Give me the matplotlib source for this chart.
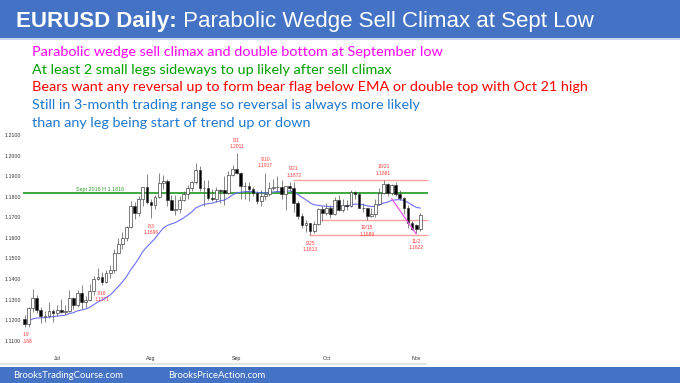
import numpy as np
import matplotlib
matplotlib.use("Agg")
import matplotlib.pyplot as plt
from matplotlib.patches import Rectangle
from matplotlib.transforms import offset_copy

# daily bars, 6/19 .. 11/3
dates = ['6/19', '6/22', '6/23', '6/24', '6/25', '6/26', '6/29', '6/30',
         '7/1', '7/2', '7/3', '7/6', '7/7', '7/8', '7/9', '7/10', '7/13', '7/14', '7/15',
         '7/16', '7/17', '7/20', '7/21', '7/22', '7/23', '7/24', '7/27', '7/28', '7/29',
         '7/30', '7/31',
         '8/3', '8/4', '8/5', '8/6', '8/7', '8/10', '8/11', '8/12', '8/13', '8/14', '8/17',
         '8/18', '8/19', '8/20', '8/21', '8/24', '8/25', '8/26', '8/27', '8/28', '8/31',
         '9/1', '9/2', '9/3', '9/4', '9/7', '9/8', '9/9', '9/10', '9/11', '9/14', '9/15',
         '9/16', '9/17', '9/18', '9/21', '9/22', '9/23', '9/24', '9/25', '9/28', '9/29', '9/30',
         '10/1', '10/2', '10/5', '10/6', '10/7', '10/8', '10/9', '10/12', '10/13', '10/14',
         '10/15', '10/16', '10/19', '10/20', '10/21', '10/22', '10/23', '10/26', '10/27',
         '10/28', '10/29', '10/30',
         '11/2', '11/3']

opens = [1.1207, 1.1180, 1.1257, 1.1307, 1.1250, 1.1213, 1.1220, 1.1243,
         1.1234, 1.1250, 1.1240, 1.1245, 1.1310, 1.1275, 1.1330, 1.1287, 1.1300, 1.1343, 1.1399,
         1.1410, 1.1383, 1.1428, 1.1442, 1.1528, 1.1570, 1.1597, 1.1655, 1.1753, 1.1719,
         1.1791, 1.1845,
         1.1775, 1.1762, 1.1799, 1.1868, 1.1875, 1.1785, 1.1737, 1.1740, 1.1786, 1.1812, 1.1842,
         1.1870, 1.1932, 1.1840, 1.1843, 1.1795, 1.1791, 1.1834, 1.1831, 1.1819, 1.1904,
         1.1937, 1.1914, 1.1854, 1.1850, 1.1837, 1.1819, 1.1778, 1.1802, 1.1812, 1.1844, 1.1846,
         1.1845, 1.1813, 1.1852, 1.1840, 1.1771, 1.1706, 1.1661, 1.1670, 1.1631, 1.1665, 1.1740,
         1.1720, 1.1747, 1.1714, 1.1782, 1.1734, 1.1760, 1.1756, 1.1825, 1.1814, 1.1745,
         1.1746, 1.1706, 1.1717, 1.1766, 1.1819, 1.1860, 1.1816, 1.1859, 1.1813,
         1.1795, 1.1745, 1.1674,
         1.1662, 1.1641]

highs = [1.1226, 1.1266, 1.1349, 1.1324, 1.1262, 1.1245, 1.1288, 1.1255,
         1.1275, 1.1303, 1.1275, 1.1346, 1.1314, 1.1348, 1.1371, 1.1318, 1.1375, 1.1415, 1.1452,
         1.1434, 1.1446, 1.1468, 1.1546, 1.1601, 1.1626, 1.1660, 1.1781, 1.1775, 1.1805,
         1.1845, 1.1908,
         1.1789, 1.1808, 1.1916, 1.1906, 1.1885, 1.1808, 1.1810, 1.1803, 1.1828, 1.1858, 1.1877,
         1.1966, 1.1951, 1.1881, 1.1883, 1.1839, 1.1845, 1.1836, 1.1900, 1.1925, 1.1953,
         1.2011, 1.1918, 1.1871, 1.1872, 1.1845, 1.1829, 1.1835, 1.1917, 1.1870, 1.1887, 1.1900,
         1.1882, 1.1838, 1.1872, 1.1872, 1.1778, 1.1720, 1.1688, 1.1674, 1.1683, 1.1747, 1.1753,
         1.1770, 1.1760, 1.1797, 1.1808, 1.1788, 1.1785, 1.1832, 1.1829, 1.1824, 1.1767,
         1.1747, 1.1744, 1.1791, 1.1840, 1.1881, 1.1868, 1.1860, 1.1871, 1.1831,
         1.1798, 1.1760, 1.1683,
         1.1668, 1.1722]

lows = [1.1168, 1.1168, 1.1240, 1.1235, 1.1184, 1.1193, 1.1210, 1.1190,
        1.1218, 1.1236, 1.1228, 1.1240, 1.1255, 1.1262, 1.1255, 1.1257, 1.1295, 1.1320, 1.1395,
        1.1371, 1.1380, 1.1404, 1.1427, 1.1525, 1.1547, 1.1585, 1.1650, 1.1690, 1.1705,
        1.1755, 1.1763,
        1.1696, 1.1740, 1.1792, 1.1837, 1.1754, 1.1737, 1.1711, 1.1720, 1.1779, 1.1789, 1.1830,
        1.1862, 1.1826, 1.1753, 1.1782, 1.1781, 1.1774, 1.1771, 1.1762, 1.1815, 1.1900,
        1.1912, 1.1789, 1.1788, 1.1781, 1.1802, 1.1765, 1.1753, 1.1783, 1.1804, 1.1835, 1.1822,
        1.1787, 1.1737, 1.1826, 1.1727, 1.1690, 1.1650, 1.1626, 1.1613, 1.1622, 1.1662, 1.1682,
        1.1710, 1.1696, 1.1709, 1.1730, 1.1728, 1.1737, 1.1752, 1.1787, 1.1743, 1.1725,
        1.1689, 1.1700, 1.1702, 1.1762, 1.1815, 1.1804, 1.1810, 1.1803, 1.1785,
        1.1716, 1.1650, 1.1639,
        1.1622, 1.1631]

closes = [1.1180, 1.1257, 1.1307, 1.1250, 1.1219, 1.1220, 1.1243, 1.1234,
          1.1250, 1.1240, 1.1245, 1.1310, 1.1275, 1.1330, 1.1287, 1.1300, 1.1343, 1.1399, 1.1410,
          1.1383, 1.1428, 1.1442, 1.1528, 1.1570, 1.1597, 1.1655, 1.1753, 1.1719, 1.1791,
          1.1845, 1.1775,
          1.1762, 1.1799, 1.1868, 1.1875, 1.1785, 1.1737, 1.1740, 1.1786, 1.1812, 1.1842, 1.1870,
          1.1932, 1.1840, 1.1843, 1.1795, 1.1791, 1.1834, 1.1828, 1.1819, 1.1904, 1.1937,
          1.1914, 1.1854, 1.1850, 1.1837, 1.1819, 1.1778, 1.1802, 1.1812, 1.1844, 1.1846, 1.1845,
          1.1813, 1.1852, 1.1840, 1.1771, 1.1706, 1.1661, 1.1670, 1.1631, 1.1665, 1.1740, 1.1720,
          1.1747, 1.1714, 1.1782, 1.1734, 1.1760, 1.1756, 1.1825, 1.1814, 1.1745, 1.1746,
          1.1706, 1.1717, 1.1766, 1.1819, 1.1860, 1.1816, 1.1859, 1.1813, 1.1795,
          1.1745, 1.1674, 1.1645,
          1.1641, 1.1711]

ema_seed = 1.1190
ema_len = 20

sept_2018_high = 1.1816
range_lines = [(1.1881, '9/21'), (1.1689, '9/30'), (1.1613, '9/25')]
wedge_dates = ['10/23', '11/2']
wedge_prices = [1.1790, 1.1619]

# (date, text, above/below)
swing_labels = [('6/19', '6/19\n1.1168', 'below'), ('7/16', '7/16\n1.1371', 'below'),
                ('8/3', '8/3\n1.1696', 'below'), ('9/1', '9/1\n1.2011', 'above'),
                ('9/10', '9/10\n1.1917', 'above'), ('9/21', '9/21\n1.1872', 'above'),
                ('9/25', '9/25\n1.1613', 'below'), ('10/15', '10/15\n1.1689', 'below'),
                ('10/21', '10/21\n1.1881', 'above'), ('11/2', '11/2\n1.1622', 'below')]

yticks = [1.11, 1.12, 1.13, 1.14, 1.15, 1.16, 1.17, 1.18, 1.19, 1.20, 1.21]
month_names = {'7': 'Jul', '8': 'Aug', '9': 'Sep', '10': 'Oct', '11': 'Nov'}

title_bold = 'EURUSD Daily:'
title_rest = ' Parabolic Wedge Sell Climax at Sept Low'
notes = ['Parabolic wedge sell climax and double bottom at September low',
         'At least 2 small legs sideways to up likely after sell climax',
         'Bears want any reversal up to form bear flag below EMA or double top with Oct 21 high',
         'Still in 3-month trading range so reversal is always more likely',
         'than any leg being start of trend up or down']
note_colors = ['#FF00FF', '#00A000', '#FF0000', '#1F78D0', '#1F78D0']

W, H = 680, 383
blue = '#4472C4'
fig = plt.figure(figsize=(W / 100, H / 100), dpi=100)
fig.patch.set_facecolor('white')


def fx(px):
    return px / W


def fy(py):
    return 1 - py / H


# header / footer bands
fig.patches.append(Rectangle((0, fy(38)), 1, 38 / H, transform=fig.transFigure,
                             facecolor=blue, edgecolor='none'))
fig.patches.append(Rectangle((0, fy(40)), 1, 2 / H, transform=fig.transFigure,
                             facecolor='#C9D6EE', edgecolor='none'))
fig.patches.append(Rectangle((0, 0), 1, 16 / H, transform=fig.transFigure,
                             facecolor=blue, edgecolor='none'))
fig.patches.append(Rectangle((0, fy(365)), fx(427), 2 / H, transform=fig.transFigure,
                             facecolor='#E4E4E4', edgecolor='none'))

t1 = fig.text(fx(16), fy(27.5), title_bold, color='white', fontsize=16, fontweight='bold',
              family='Liberation Sans', va='baseline')
fig.canvas.draw()
bb = t1.get_window_extent()
fig.text(bb.x1 / W, fy(27.5), title_rest, color='white', fontsize=16,
         family='Liberation Sans', va='baseline')

for i, (line, c) in enumerate(zip(notes, note_colors)):
    fig.text(fx(32), fy(52 + i * 17.7), line, color=c, fontsize=10.4, family='Lato', va='center')

fig.text(fx(13), fy(375.5), 'BrooksTradingCourse.com', color='white', fontsize=6.8,
         family='Lato', va='center')
fig.text(fx(168), fy(375.5), 'BrooksPriceAction.com', color='white', fontsize=6.8,
         family='Lato', va='center')

# price chart
ax = fig.add_axes([fx(23), fy(350), fx(430) - fx(23), (350 - 128) / H])
ax.set_facecolor('none')
for s in ax.spines.values():
    s.set_visible(False)

x = np.arange(len(dates))
idx = {d: i for i, d in enumerate(dates)}

ax.hlines(sept_2018_high, -0.37, 98.9, color='#1E9A1E', lw=1.2, zorder=1)
ax.text(idx['7/16'] - 0.5, sept_2018_high + 0.0008, 'Sept 2018 H %.4f' % sept_2018_high,
        color='#2E9A2E', fontsize=3.9, family='Liberation Sans', ha='center', va='bottom')

for price, start in range_lines:
    ax.hlines(price, idx[start] - 0.3, 98.9, color='#FFA0A0', lw=1.0, zorder=1)

# EMA
ema = []
e = ema_seed
k = 2 / (ema_len + 1)
for c in closes:
    e = e + k * (c - e)
    ema.append(e)
ax.plot(x, ema, color='#6E6EFF', lw=0.8, zorder=2)

for i in range(len(dates)):
    o, h, l, c = opens[i], highs[i], lows[i], closes[i]
    ax.vlines(x[i], l, h, color='#555555', lw=0.5, zorder=3)
    bull = c >= o
    ax.add_patch(Rectangle((x[i] - 0.34, min(o, c)), 0.68, max(abs(c - o), 0.00015),
                           facecolor='white' if bull else 'black', edgecolor='#333333',
                           lw=0.45, zorder=4))

ax.plot([idx[d] for d in wedge_dates], wedge_prices, color='#EE55EE', lw=0.9, zorder=5)

for d, txt, side in swing_labels:
    i = idx[d]
    if side == 'above':
        tr = offset_copy(ax.transData, fig=fig, y=3, units='points')
        ax.text(i, highs[i], txt, transform=tr, ha='center', va='bottom', color='#FF3B3B',
                fontsize=3.5, family='Liberation Sans', linespacing=1.4, clip_on=True)
    else:
        tr = offset_copy(ax.transData, fig=fig, y=-4, units='points')
        ax.text(i, lows[i], txt, transform=tr, ha='center', va='top', color='#FF3B3B',
                fontsize=3.5, family='Liberation Sans', linespacing=1.4, clip_on=True)

month_pos = []
month_lab = []
for i, d in enumerate(dates):
    m = d.split('/')[0]
    if m in month_names and (i == 0 or dates[i - 1].split('/')[0] != m):
        month_pos.append(i)
        month_lab.append(month_names[m])
ax.set_xticks(month_pos)
ax.set_xticklabels(month_lab)
ax.set_yticks(yticks)
ax.set_yticklabels(['%.4f' % v for v in yticks])
ax.tick_params(length=0, labelsize=3.8, labelcolor='#333333', pad=1.5)
ax.tick_params(axis='x', pad=4)
for t in ax.get_xticklabels() + ax.get_yticklabels():
    t.set_family('Liberation Sans')

ax.set_xlim(-0.37, 99.39)
ax.set_ylim(1.10548, 1.21340)

fig.savefig('out.png', dpi=100)
